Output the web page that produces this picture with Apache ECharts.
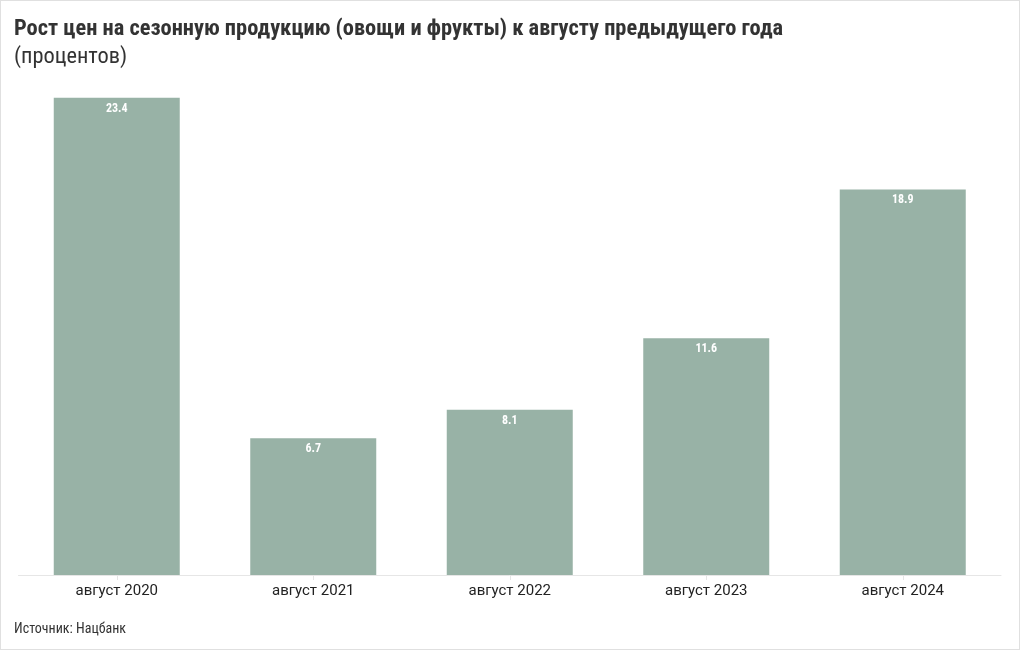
<!DOCTYPE html>
<html><head><meta charset="utf-8">
<script src="https://cdn.jsdelivr.net/npm/echarts@6/dist/echarts.min.js"></script>
<style>
html,body{margin:0;padding:0;background:#fff;}
#c{width:1018px;height:648px;border:1px solid #e0e0e0;}
</style></head><body>
<div id="c"></div>
<script>
const categories = ['август 2020','август 2021','август 2022','август 2023','август 2024'];
const values = [23.4, 6.7, 8.1, 11.6, 18.9];
const titleText = 'Рост цен на сезонную продукцию (овощи и фрукты) к августу предыдущего года';
const subtitleText = '(процентов)';
const sourceText = 'Источник: Нацбанк';

const FONT = '"Liberation Sans Narrow", "Roboto Condensed", Roboto, sans-serif';
const chart = echarts.init(document.getElementById('c'));
chart.setOption({
  animation: false,
  title: [
    {text: titleText, left: 8, top: 12, textStyle: {fontFamily: FONT, fontSize: 22.4, fontWeight: 'bold', color: '#333'}},
    {text: subtitleText, left: 8, top: 40, textStyle: {fontFamily: FONT, fontSize: 22.4, fontWeight: 'normal', color: '#333'}},
    {text: sourceText, left: 8, top: 616, textStyle: {fontFamily: FONT, fontSize: 14, fontWeight: 'normal', color: '#333'}}
  ],
  grid: {left: 17.5, right: 18, top: 64, bottom: 74},
  xAxis: {
    type: 'category', data: categories,
    axisLine: {lineStyle: {color: '#e6e6e6'}},
    axisTick: {show: true, alignWithLabel: true, length: 5, lineStyle: {color: '#e6e6e6'}},
    axisLabel: {fontFamily: 'Roboto, sans-serif', fontSize: 15, color: '#222', margin: 9}
  },
  yAxis: {type: 'value', min: 0, max: 25, show: false, splitLine: {show: false}},
  series: [{
    type: 'bar', data: values, barWidth: 126,
    itemStyle: {color: '#98b2a6'},
    label: {show: true, position: 'insideTop', distance: 5, color: '#fff', fontFamily: FONT, fontWeight: 'bold', fontSize: 12,
      formatter: p => p.value.toFixed(1)}
  }]
});
</script>
</body></html>
